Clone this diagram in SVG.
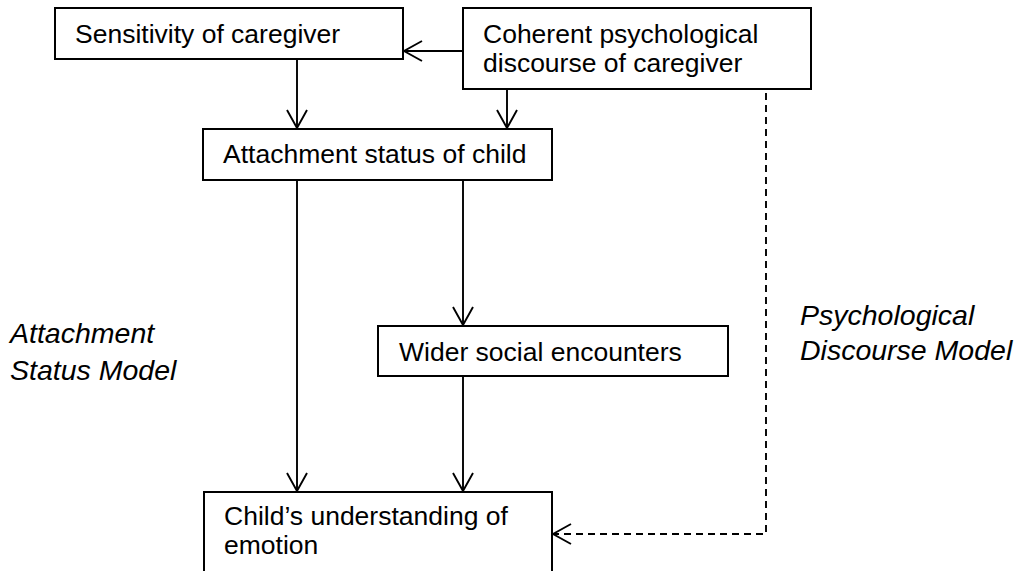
<svg xmlns="http://www.w3.org/2000/svg" width="1024" height="571" viewBox="0 0 1024 571">
<style>
.box{fill:#fff;stroke:#000;stroke-width:2}
.t{font-family:"Liberation Sans",Arial,sans-serif;font-size:26.5px;fill:#000}
.lbl{font-family:"Liberation Sans",Arial,sans-serif;font-size:28.5px;font-style:italic;fill:#000}
.c{fill:none;stroke:#000;stroke-width:1.9}
.d{stroke-dasharray:7,5}
</style>
<defs>
<marker id="ah" viewBox="0 0 20 22" refX="19" refY="11" markerWidth="20" markerHeight="22" markerUnits="userSpaceOnUse" orient="auto">
<path d="M1,1 L19,11 L1,21" fill="none" stroke="#000" stroke-width="1.9"/>
</marker>
</defs>
<rect width="1024" height="571" fill="#fff"/>
<g id="connectors">
<line class="c" x1="463" y1="51" x2="404" y2="51" marker-end="url(#ah)"/>
<line class="c" x1="297" y1="59" x2="297" y2="128" marker-end="url(#ah)"/>
<line class="c" x1="507" y1="89" x2="507" y2="128" marker-end="url(#ah)"/>
<line class="c" x1="297" y1="180" x2="297" y2="491" marker-end="url(#ah)"/>
<line class="c" x1="463" y1="180" x2="463" y2="325" marker-end="url(#ah)"/>
<line class="c" x1="463" y1="376" x2="463" y2="491" marker-end="url(#ah)"/>
<polyline class="c d" points="766,93 766,534 553,534" marker-end="url(#ah)"/>
</g>
<g id="sensitivity">
<rect class="box" x="55" y="8" width="348" height="51"/>
<text class="t" x="75" y="43">Sensitivity of caregiver</text>
</g>
<g id="coherent">
<rect class="box" x="463" y="8" width="348" height="81"/>
<text class="t" x="483" y="43">Coherent psychological</text>
<text class="t" x="483" y="72">discourse of caregiver</text>
</g>
<g id="attachment">
<rect class="box" x="203" y="129" width="349" height="51"/>
<text class="t" x="223" y="163">Attachment status of child</text>
</g>
<g id="wider">
<rect class="box" x="378" y="326" width="350" height="50"/>
<text class="t" x="399" y="361">Wider social encounters</text>
</g>
<g id="understanding">
<rect class="box" x="204" y="492" width="348" height="100"/>
<text class="t" x="224" y="525">Child’s understanding of</text>
<text class="t" x="224" y="554">emotion</text>
</g>
<g id="labels">
<text class="lbl" x="10" y="343">Attachment</text>
<text class="lbl" x="10" y="380">Status Model</text>
<text class="lbl" x="800" y="325">Psychological</text>
<text class="lbl" x="800" y="360">Discourse Model</text>
</g>
</svg>
